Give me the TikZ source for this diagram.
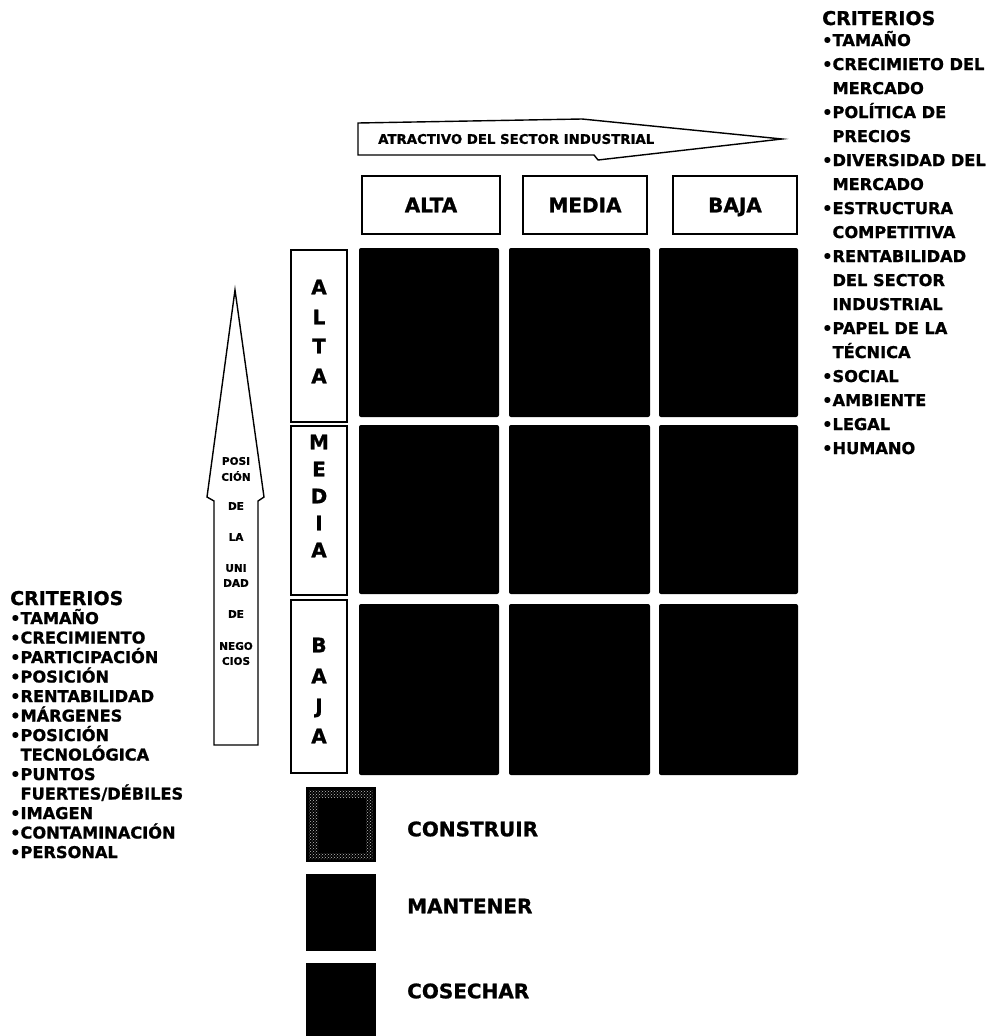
\documentclass[tikz,border=0pt]{standalone}
\usepackage{fontspec}
\setmainfont{DejaVu Sans}[BoldFeatures={FakeBold=1}]
\usetikzlibrary{patterns}

\begin{document}
\begin{tikzpicture}[
    x=1pt,
    y=-1pt,
    outline/.style={draw=black, line width=1.4pt},
    headbox/.style={outline, inner sep=0pt, text height=14.6pt, text depth=0pt, font=\fontsize{20}{24}\selectfont\bfseries},
    rowbox/.style={outline, inner sep=0pt},
    cell/.style={fill=black, rounded corners=2pt},
    letter/.style={font=\fontsize{20}{24}\selectfont\bfseries, inner sep=0pt, text height=14.6pt, text depth=0pt},
    arrowtext/.style={font=\fontsize{10.5}{12}\selectfont\bfseries, inner sep=0pt},
    listtext/.style={font=\fontsize{16.2}{19}\selectfont\bfseries, anchor=base west, inner sep=0pt},
    listhead/.style={font=\fontsize{19}{23}\selectfont\bfseries, anchor=base west, inner sep=0pt},
    legendtext/.style={font=\fontsize{20}{24}\selectfont\bfseries, anchor=west, inner sep=0pt}
  ]
    \useasboundingbox (0,0) rectangle (988,1036);

    % horizontal arrow
    \draw[outline] (358,123) -- (582,119) -- (782,139) -- (598,160) -- (594,155) -- (358,155) -- cycle;
    \node[font=\fontsize{13.3}{15}\selectfont\bfseries, anchor=west, inner sep=0pt] (sector) at (378,139) {ATRACTIVO DEL SECTOR INDUSTRIAL};

    % column heads
    \node[headbox, minimum width=138pt, minimum height=58pt] (colalta) at (431,205) {ALTA};
    \node[headbox, minimum width=124pt, minimum height=58pt] (colmedia) at (585,205) {MEDIA};
    \node[headbox, minimum width=124pt, minimum height=58pt] (colbaja) at (735,205) {BAJA};

    % matrix
    \foreach \x/\xx in {359/499,509/650,659/798} {
      \foreach \y/\yy in {248/417,425/594,604/775} {
        \fill[cell] (\x,\y) rectangle (\xx,\yy);
      }
    }

    % row heads
    \node[rowbox, minimum width=56pt, minimum height=172pt] (rowalta) at (319,336) {};
    \node[rowbox, minimum width=56pt, minimum height=169pt] (rowmedia) at (319,510.5) {};
    \node[rowbox, minimum width=56pt, minimum height=173pt] (rowbaja) at (319,686.5) {};
    \foreach \ch/\y in {A/287,L/317,T/346,A/376,M/442,E/469,D/496,I/523,A/550,B/645,A/676,J/706,A/736} {
      \node[letter] (lt\y) at (319,\y) {\ch};
    }

    % vertical arrow
    \draw[outline] (235,290) -- (264,497) -- (258,501) -- (258,745) -- (214,745) -- (214,501) -- (207,497) -- cycle;
    \foreach \txt/\y in {POSI/461,CIÓN/476,DE/506,LA/537,UNI/568,DAD/583,DE/614,NEGO/646,CIOS/661} {
      \node[arrowtext] (pos\y) at (236,\y) {\txt};
    }

    % criteria, right
    \node[listhead] (critder) at (822,25) {CRITERIOS};
    \foreach \txt [count=\i] in {•TAMAÑO,•CRECIMIETO DEL,\phantom{•}MERCADO,•POLÍTICA DE,\phantom{•}PRECIOS,
        •DIVERSIDAD DEL,\phantom{•}MERCADO,•ESTRUCTURA,\phantom{•}COMPETITIVA,•RENTABILIDAD,
        \phantom{•}DEL SECTOR,\phantom{•}INDUSTRIAL,•PAPEL DE LA,\phantom{•}TÉCNICA,•SOCIAL,
        •AMBIENTE,•LEGAL,•HUMANO} {
      \node[listtext] (der\i) at (822,{46+24*(\i-1)}) {\txt};
    }

    % criteria, left
    \node[listhead] (critizq) at (10,605) {CRITERIOS};
    \foreach \txt [count=\i] in {•TAMAÑO,•CRECIMIENTO,•PARTICIPACIÓN,•POSICIÓN,•RENTABILIDAD,
        •MÁRGENES,•POSICIÓN,\phantom{•}TECNOLÓGICA,•PUNTOS,{\phantom{•}FUERTES/DÉBILES},
        •IMAGEN,•CONTAMINACIÓN,•PERSONAL} {
      \node[listtext] (izq\i) at (10,{624+19.5*(\i-1)}) {\txt};
    }

    % legend
    \fill[black] (306,787) rectangle (376,862);
    \fill[pattern=crosshatch dots, pattern color=white!75!black, even odd rule]
      (309,790) rectangle (373,859) (318,798) rectangle (366,853);
    \fill[black] (306,874) rectangle (376,951);
    \fill[black] (306,963) rectangle (376,1036);
    \node[legendtext] (construir) at (407,829) {CONSTRUIR};
    \node[legendtext] (mantener) at (407,906) {MANTENER};
    \node[legendtext] (cosechar) at (407,991) {COSECHAR};
  \end{tikzpicture}
\end{document}
